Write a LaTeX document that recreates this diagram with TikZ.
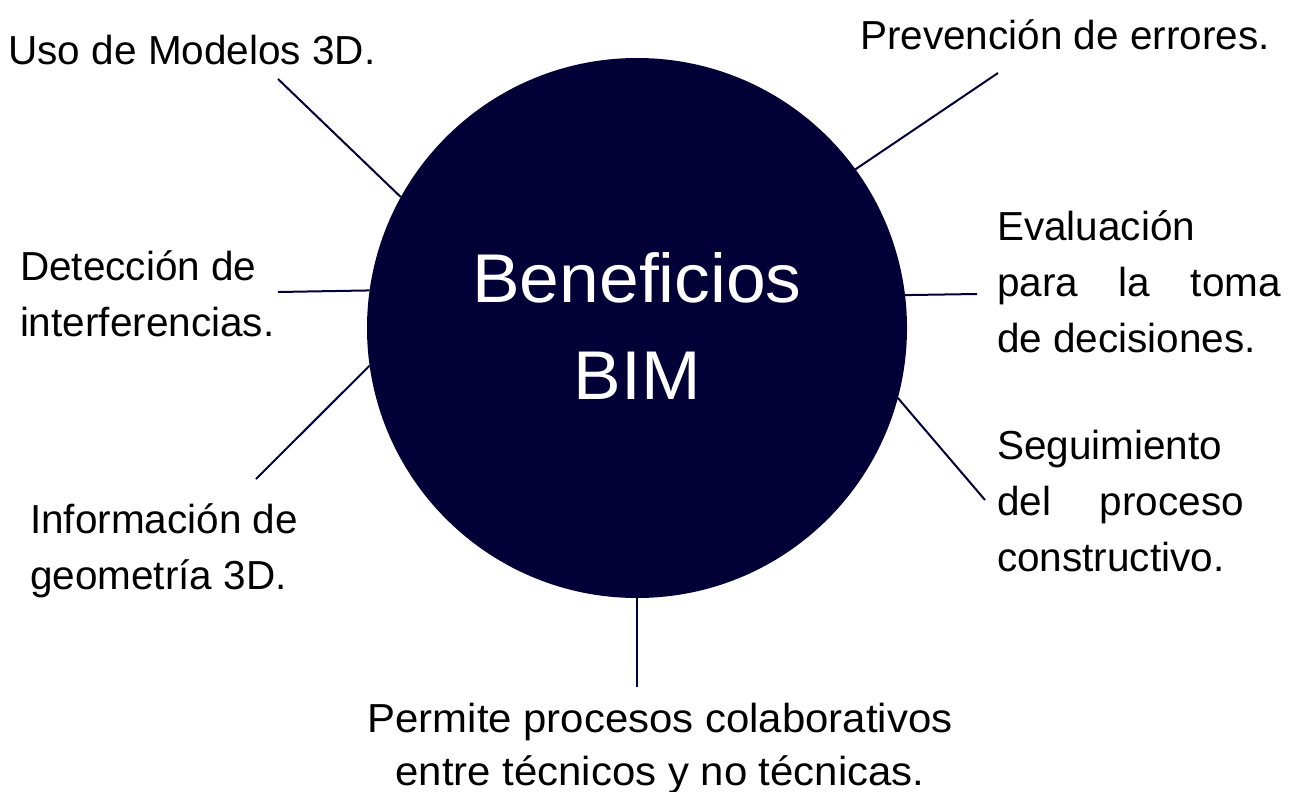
\documentclass[tikz,border=0pt]{standalone}
\usepackage{fontspec}
\setmainfont{Liberation Sans}
\newfontfamily\widefont{Liberation Sans}[FakeStretch=1.035]
\definecolor{navy}{RGB}{2,0,54}
\begin{document}
\begin{tikzpicture}[x=1pt,y=-1pt,
  lbl/.style={anchor=base west, inner sep=0pt, outer sep=0pt, text=black, font=\fontsize{40.5}{56}\selectfont},
  conn/.style={draw=navy, line width=2pt}]
\useasboundingbox (0,0) rectangle (1293,792);
\node[circle, fill=navy, minimum size=540pt, inner sep=0pt, outer sep=0pt] (c) at (637,328) {};
\node[anchor=base, inner sep=0pt, text=white] (t) at (637,302)
  {\parbox[t]{420pt}{\centering\widefont\fontsize{69}{97}\selectfont Beneficios\\BIM}};
\node[lbl] (uso) at (8.5,65) {Uso de Modelos 3D.};
\node[lbl] (prev) at (860,49) {Prevención de errores.};
\node[lbl] (det) at (20,280) {\parbox[t]{300pt}{\raggedright Detección de\\interferencias.}};
\node[lbl] (inf) at (30,533) {\parbox[t]{300pt}{\raggedright Información de\\geometría 3D.}};
\node[lbl] (eva) at (997,240) {\parbox[t]{284pt}{\raggedright Evaluación\\para\hfill la\hfill toma\\de decisiones.}};
\node[lbl] (seg) at (997,459) {\parbox[t]{247pt}{\raggedright Seguimiento\\del\hfill proceso\\constructivo.}};
\node[anchor=base, inner sep=0pt, text=black] (perm) at (660,732)
  {\parbox[t]{700pt}{\centering\widefont\fontsize{40.5}{53}\selectfont Permite procesos colaborativos\\entre técnicos y no técnicas.}};
\coordinate (pu) at (278,79);
\coordinate (pp) at (998,73);
\coordinate (pe) at (977,294);
\coordinate (ps) at (985,500);
\coordinate (pb) at (637,687);
\coordinate (pi) at (256,479);
\coordinate (pd) at (278,292);
\draw[conn] (c.151) -- (pu);
\draw[conn] (c.36) -- (pp);
\draw[conn] (c.7.2) -- (pe);
\draw[conn] (c.-15) -- (ps);
\draw[conn] (c.south) -- (pb);
\draw[conn] (c.188.1) -- (pi);
\draw[conn] (c.172.3) -- (pd);
\end{tikzpicture}
\end{document}
